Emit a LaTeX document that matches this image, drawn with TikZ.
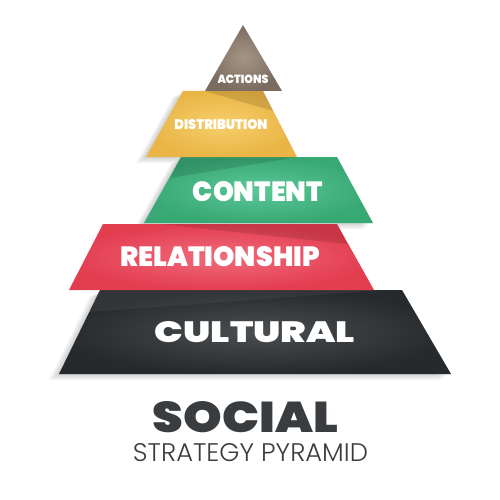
\documentclass[tikz,border=0pt]{standalone}
\usepackage{fontspec}
\usepackage{graphicx}
\newfontfamily\heavy{Poppins Black}
\newfontfamily\lightf{Poppins Light}
\definecolor{actA}{HTML}{A59584}
\definecolor{actB}{HTML}{7A6C60}
\definecolor{disA}{HTML}{F6CF6C}
\definecolor{disB}{HTML}{EAB546}
\definecolor{conA}{HTML}{5CC898}
\definecolor{conB}{HTML}{38A874}
\definecolor{relA}{HTML}{F06C7C}
\definecolor{relB}{HTML}{E33D50}
\definecolor{culA}{HTML}{4B4E51}
\definecolor{culB}{HTML}{272A2C}
\definecolor{titlec}{HTML}{3A3D40}
\tikzset{
  lbl/.style={text=white, inner sep=0pt, font=\heavy},
  shadowlayer/.style={fill=black, fill opacity=0.035},
  darkband/.style={fill=black, fill opacity=0.12},
}
\begin{document}
\begin{tikzpicture}[x=1pt,y=-1pt]
\useasboundingbox[fill=white] (0,0) rectangle (500,500);
% soft shadows
\foreach \d in {2,4,6,8,10}{
  \fill[shadowlayer] ([shift={(-\d,\d*0.6)}]181,157) -- ([shift={(-\d,\d*0.6)}]337,157) -- ([shift={(-\d,\d*0.6)}]373,223) -- ([shift={(-\d,\d*0.6)}]144,223) -- cycle;
  \fill[shadowlayer] ([shift={(-\d,\d*0.6)}]100,290) -- ([shift={(-\d,\d*0.6)}]402,290) -- ([shift={(-\d,\d*0.6)}]451,374) -- ([shift={(-\d,\d*0.6)}]59,374) -- cycle;
  \fill[shadowlayer] ([shift={(-\d,\d*0.6)}]183,91) -- ([shift={(-\d,\d*0.6)}]263,91) -- ([shift={(-\d,\d*0.6)}]297,157) -- ([shift={(-\d,\d*0.6)}]146,157) -- cycle;
}
% cultural
\shade[inner color=culA, outer color=culB] (100,290) -- (402,290) -- (451,374) -- (59,374) -- cycle;
\fill[white, fill opacity=0.05] (100,290) -- (385,290) -- (89,312) -- cycle;
% relationship
\shade[inner color=relA, outer color=relB] (103,224) -- (337,224) -- (374,290) -- (69,290) -- cycle;
\fill[darkband] (160,224) -- (337,224) -- (347,244) -- cycle;
% content
\shade[inner color=conA, outer color=conB] (181,157) -- (337,157) -- (373,223) -- (144,223) -- cycle;
\fill[darkband] (181,157) -- (298,157) -- (170,178) -- cycle;
% distribution
\shade[inner color=disA, outer color=disB] (183,91) -- (263,91) -- (297,157) -- (146,157) -- cycle;
\fill[darkband] (205,91) -- (263,91) -- (273,111) -- cycle;
% actions
\shade[inner color=actA, outer color=actB] (243,25) -- (282,91) -- (205,91) -- cycle;
% labels
\node[lbl] (actions) at (243,79) {\resizebox{51pt}{8.5pt}{ACTIONS}};
\node[lbl] (distribution) at (221,125) {\resizebox{93pt}{10pt}{DISTRIBUTION}};
\node[lbl] (content) at (258,192) {\resizebox{130pt}{20pt}{CONTENT}};
\node[lbl] (relationship) at (220,257) {\resizebox{200pt}{20pt}{RELATIONSHIP}};
\node[lbl] (cultural) at (255,332.5) {\resizebox{200pt}{21pt}{CULTURAL}};
\node[inner sep=0pt, text=titlec] (social) at (245.5,417.5) {\resizebox{185pt}{31pt}{\heavy SOCIAL}};
\node[inner sep=0pt, text=titlec] (subtitle) at (250.5,453) {\resizebox{235pt}{18pt}{\lightf STRATEGY PYRAMID}};
\end{tikzpicture}
\end{document}
